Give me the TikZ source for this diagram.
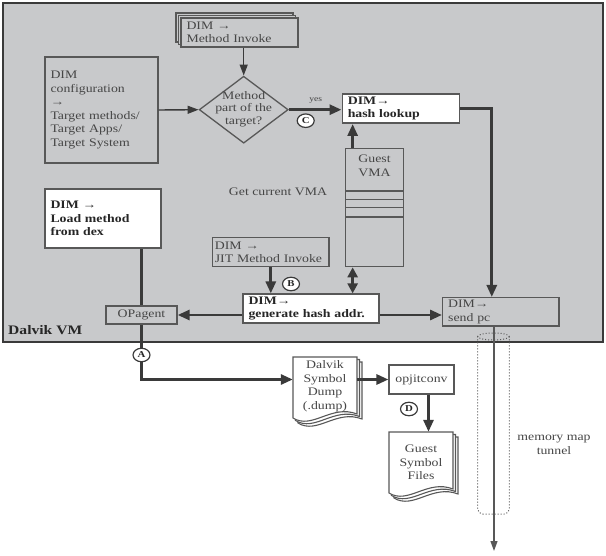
\documentclass[tikz,border=0pt]{standalone}
\usepackage{fontspec}
\setmainfont{Liberation Serif}[FakeStretch=1.2]
\usetikzlibrary{arrows.meta,shapes.geometric,calc}
\definecolor{vmgray}{RGB}{200,201,203}
\definecolor{edgec}{RGB}{88,88,88}
\definecolor{arrc}{RGB}{58,58,58}
\definecolor{txtg}{RGB}{70,70,70}
\definecolor{txtd}{RGB}{38,38,38}
\pgfdeclarelayer{bottom}
\pgfdeclarelayer{background}
\pgfsetlayers{bottom,background,main}
\newcommand\docsheet[4]{%
  \foreach \k in {2,1,0}{%
    \draw[docline, shift={({#1+2.5*\k},{#2+2.5*\k})}] (0,0) -- (#3,0) -- (#3,#4-4)
      .. controls ({0.6*#3},{#4-14}) and ({0.3*#3},{#4+12}) .. (0,#4) -- cycle;}}
\tikzset{
  every node/.style={font=\fontsize{11.5}{13.5}\selectfont},
  tb/.style={draw=edgec, line width=1.3pt, fill=vmgray, text=txtg, align=left, inner xsep=5.5pt, inner ysep=1pt},
  wb/.style={draw=edgec, line width=1.6pt, fill=white, text=txtd, align=left, inner xsep=5.5pt, inner ysep=1pt, font=\fontsize{11.5}{13.5}\selectfont\bfseries},
  tag/.style={ellipse, draw=arrc, line width=1.2pt, fill=white, minimum width=17pt, minimum height=13.5pt, inner sep=0pt, font=\fontsize{9}{9}\selectfont\bfseries, text=txtd},
  big/.style={draw=arrc, line width=2.8pt, -{Triangle[length=12pt,width=10pt]}},
  bigboth/.style={draw=arrc, line width=2.8pt, {Triangle[length=10pt,width=10pt]}-{Triangle[length=10pt,width=10pt]}},
  thinar/.style={draw=arrc, line width=1.4pt, -{Triangle[length=11pt,width=8pt]}},
  tunar/.style={draw=edgec, line width=1.2pt, -{Triangle[length=10pt,width=7pt]}},
  docline/.style={draw=edgec, line width=1.1pt, fill=white},
  sepline/.style={draw=edgec, line width=1.1pt},
  tunline/.style={draw=edgec, line width=1pt, dotted}
}
\begin{document}
\begin{tikzpicture}[x=1pt,y=-1pt]
\useasboundingbox (0,0) rectangle (606,556);
% Dalvik VM container
\begin{pgfonlayer}{bottom}
\node[draw=arrc, line width=2pt, fill=vmgray, minimum width=600pt, minimum height=339pt, inner sep=0pt] (vm) at (303,172.5) {};
\end{pgfonlayer}
\node[font=\fontsize{13}{13}\selectfont\bfseries, text=txtd, anchor=west, inner sep=0pt] (dvm) at (8,330) {Dalvik VM};

% Method invoke (stacked)
\draw[tb] (176,13) rectangle +(117,29);
\draw[tb] (178.5,15.5) rectangle +(117,29);
\node[tb, text width=106pt, minimum height=29pt] (minv) at (239.5,32.5) {DIM →\\Method Invoke};

% configuration
\node[tb, text width=102pt, minimum height=106pt] (cfg) at (101.5,110) {DIM\\configuration\\→\\Target methods/\\Target Apps/\\Target System};

% decision
\node[diamond, draw=edgec, line width=1.3pt, fill=vmgray, minimum width=89pt, minimum height=67pt, inner sep=0pt] (dia) at (243.7,109.7) {};
\node[align=center, text=txtg, font=\fontsize{11.5}{12.3}\selectfont, inner sep=0pt] (diat) at (243.7,109) {Method\\part of the\\target?};

% hash lookup
\node[wb, text width=106pt, minimum height=29pt] (hash) at (400.8,108.7) {DIM→\\hash lookup};

% Guest VMA
\node[draw=edgec, line width=1.3pt, fill=vmgray, minimum width=57.6pt, minimum height=118.4pt, inner sep=0pt] (gva) at (374.5,207.5) {};
\node[align=center, text=txtg, inner sep=0pt] (gvat) at (374.5,166) {Guest\\VMA};
\foreach \d in {43.4,51.7,60,69.4}
  \draw[sepline] ($(gva.north west)+(0,\d)$) -- ($(gva.north east)+(0,\d)$);
\node[text=txtg, inner sep=0pt] (gcv) at (278,191.7) {Get current VMA};

% JIT / generate / OPagent / load / send pc
\node[tb, text width=112pt, inner xsep=2.2pt, minimum height=29pt] (jit) at (270.8,252.2) {DIM →\\JIT Method Invoke};
\node[wb, text width=125pt, minimum height=29pt] (gen) at (311,308.7) {DIM→\\generate hash addr.};
\node[tb, minimum width=71pt, minimum height=18pt, inner sep=0pt, align=center] (opa) at (141.5,315) {OPagent};
\node[wb, text width=105pt, minimum height=59pt] (load) at (103,218.5) {DIM →\\Load method\\from dex};
\node[tb, text width=105.3pt, minimum height=28.3pt] (sendpc) at (500.8,311.8) {DIM→\\send pc};

% outside
\docsheet{293}{357}{64}{61}
\node[align=center, minimum width=64pt, minimum height=61pt, inner sep=0pt, text=txtg] (dump) at (325,386) {Dalvik\\Symbol\\Dump\\(.dump)};
\node[draw=edgec, line width=1.1pt, fill=white, minimum width=65pt, minimum height=29pt, inner sep=0pt, text=txtg] (opj) at (421.5,379.5) {opjitconv};
\docsheet{389}{432}{64}{61}
\node[align=center, minimum width=64pt, minimum height=61pt, inner sep=0pt, text=txtg] (gsf) at (421,462.5) {Guest\\Symbol\\Files};

% tunnel
\draw[tunline] (493.5,336.5) ellipse [x radius=15.8, y radius=3.5];
\draw[tunline, rounded corners=5pt] (477.7,336.5) -- (477.7,514) -- (509.3,514) -- (509.3,336.5);
\coordinate (tunend) at (494,551);
\draw[tunar] (sendpc.south -| tunend) -- (tunend);
\node[align=center, text=txtg, inner sep=0pt] (mmt) at (554,445) {memory map\\tunnel};

% connectors
\draw[thinar] (cfg.east) -- (dia.west);
\draw[thinar] (dia.north |- minv.south) -- (dia.north);
\draw[big] (dia.east) -- (dia.east -| hash.west);
\node[font=\fontsize{8}{8}\selectfont, text=txtg, inner sep=0pt] (yes) at (315.7,100) {yes};
\draw[big] (hash.east) -| ($(sendpc.north)+(-9,0)$);
\coordinate (vx) at ($(gva.north west)+(7.6,0)$);
\draw[big] (vx) -- (vx |- hash.south);
\draw[bigboth] (gva.south -| vx) -- (gen.north -| vx);
\draw[big] (jit.south) -- (jit.south |- gen.north);
\draw[big] (gen.west |- opa.east) -- (opa.east);
\draw[big] (gen.east |- opa.east) -- (sendpc.west |- opa.east);
\begin{pgfonlayer}{background}
\draw[big] (load.south -| opa) -- (opa |- opj.west) -- (dump.west |- opj.west);
\end{pgfonlayer}
\draw[big] (dump.east |- opj.west) -- (opj.west);
\coordinate (dx) at ($(opj.south)+(7,0)$);
\draw[big] (dx) -- (dx |- gsf.north);

% tags
\node[tag] (tA) at (141.5,355) {A};
\node[tag] (tB) at (291,284) {B};
\node[tag] (tC) at (305.7,120.7) {C};
\node[tag] (tD) at (409,409) {D};
\end{tikzpicture}
\end{document}
